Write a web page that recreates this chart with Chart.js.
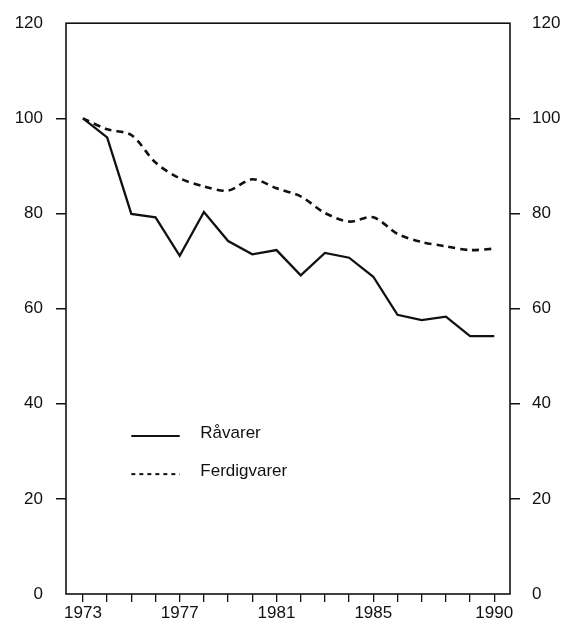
<!DOCTYPE html>
<html>
<head>
<meta charset="utf-8">
<script src="https://cdn.jsdelivr.net/npm/chart.js@4.4.1/dist/chart.umd.min.js"></script>
<style>
  html, body { margin: 0; padding: 0; background: #fff; }
  canvas { display: block; }
</style>
</head>
<body>
<canvas id="chart" width="561" height="629"></canvas>
<script>
const years = [1973, 1974, 1975, 1976, 1977, 1978, 1979, 1980, 1981, 1982, 1983, 1984, 1985, 1986, 1987, 1988, 1989, 1990];
const raavarer = [100, 96.0, 79.9, 79.2, 71.1, 80.3, 74.2, 71.4, 72.3, 67.0, 71.7, 70.7, 66.7, 58.7, 57.6, 58.3, 54.2, 54.2];
const ferdigvarer = [100, 97.7, 96.5, 90.7, 87.4, 85.7, 84.8, 87.2, 85.3, 83.6, 80.1, 78.3, 79.2, 75.7, 74.0, 73.1, 72.3, 72.6];
const yearLabels = [1973, 1977, 1981, 1985, 1990];
const yTicks = [0, 20, 40, 60, 80, 100, 120];

const ink = '#111';
const font = { family: 'Liberation Sans, Arial, sans-serif', size: 17 };

// legend inside plot area, drawn from the dataset styles
const legendInside = {
  id: 'legendInside',
  afterDatasetsDraw(chart) {
    const { ctx, scales: { x, y } } = chart;
    const rows = [33.2, 25.2];
    ctx.save();
    chart.data.datasets.forEach((ds, i) => {
      const ly = y.getPixelForValue(rows[i]);
      ctx.beginPath();
      ctx.strokeStyle = ds.borderColor;
      ctx.lineWidth = 2;
      ctx.setLineDash(i === 1 ? [4, 4] : []);
      ctx.moveTo(x.getPixelForValue(1975), ly);
      ctx.lineTo(x.getPixelForValue(1977), ly);
      ctx.stroke();
      ctx.setLineDash([]);
      ctx.fillStyle = ink;
      ctx.font = '17px Liberation Sans, Arial, sans-serif';
      ctx.textBaseline = 'middle';
      ctx.fillText(ds.label, x.getPixelForValue(1977.85), ly - 3);
    });
    ctx.restore();
  }
};

const frame = {
  id: 'frame',
  afterDraw(chart) {
    const { ctx, chartArea: a } = chart;
    ctx.save();
    ctx.strokeStyle = ink;
    ctx.lineWidth = 1.6;
    ctx.strokeRect(a.left, a.top, a.right - a.left, a.bottom - a.top);
    ctx.restore();
  }
};

const tickColor = (c) => (c.tick && (c.tick.value === 0 || c.tick.value === 120)) ? 'rgba(0,0,0,0)' : ink;

new Chart(document.getElementById('chart'), {
  type: 'line',
  data: {
    datasets: [{
      label: 'Råvarer',
      data: years.map((yr, i) => ({ x: yr, y: raavarer[i] })),
      borderColor: ink,
      borderWidth: 2.3,
      pointRadius: 0,
      tension: 0
    }, {
      label: 'Ferdigvarer',
      data: years.map((yr, i) => ({ x: yr, y: ferdigvarer[i] })),
      borderColor: ink,
      borderWidth: 2.6,
      borderDash: [7, 5],
      pointRadius: 0,
      tension: 0.3
    }]
  },
  options: {
    responsive: false,
    animation: false,
    layout: { padding: { top: 20, left: 0, right: 0, bottom: 0 } },
    plugins: { legend: { display: false }, tooltip: { enabled: false } },
    scales: {
      x: {
        type: 'linear',
        min: 1972.3,
        max: 1990.65,
        afterBuildTicks: (axis) => { axis.ticks = years.map(v => ({ value: v })); },
        afterFit: (axis) => { axis.height = 35; },
        border: { display: false },
        grid: { drawOnChartArea: false, drawTicks: true, tickLength: 8, color: ink, lineWidth: 1.3 },
        ticks: {
          color: ink, font, padding: 1, autoSkip: false, maxRotation: 0,
          callback: (v) => yearLabels.includes(v) ? String(v) : ''
        }
      },
      y: {
        position: 'left',
        min: 0, max: 120,
        afterBuildTicks: (axis) => { axis.ticks = yTicks.map(v => ({ value: v })); },
        afterFit: (axis) => { axis.width = 66; },
        border: { display: false },
        grid: { drawOnChartArea: false, tickLength: 10, color: tickColor, lineWidth: 1.5 },
        ticks: { color: ink, font, padding: 13 }
      },
      y2: {
        position: 'right',
        min: 0, max: 120,
        afterBuildTicks: (axis) => { axis.ticks = yTicks.map(v => ({ value: v })); },
        afterFit: (axis) => { axis.width = 51; },
        border: { display: false },
        grid: { drawOnChartArea: false, tickLength: 10, color: tickColor, lineWidth: 1.5 },
        ticks: { color: ink, font, padding: 12 }
      }
    }
  },
  plugins: [legendInside, frame]
});
</script>
</body>
</html>
